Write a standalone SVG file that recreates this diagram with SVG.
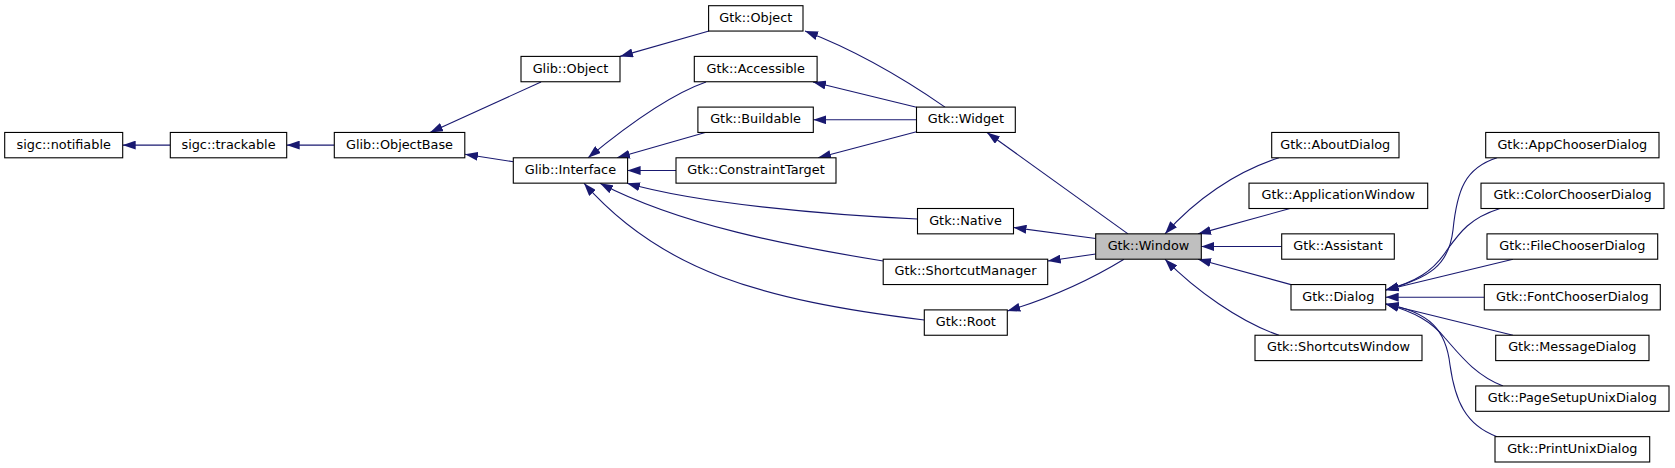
<svg xmlns="http://www.w3.org/2000/svg" width="1675" height="468" viewBox="0 0 1675 468">
<style>
.node rect{fill:#ffffff;stroke:#000000;stroke-width:1.1}
.node.cur rect{fill:#bfbfbf}
.node text{font-family:"DejaVu Sans","Liberation Sans",sans-serif;font-size:12.85px;text-anchor:middle;fill:#000}
.edge{fill:none;stroke:#191970;stroke-width:1.1;marker-end:url(#arr)}
</style>
<defs>
<marker id="arr" markerUnits="userSpaceOnUse" viewBox="0 0 13 9" refX="13" refY="4.5" markerWidth="13" markerHeight="9" orient="auto">
<path d="M0,0 L13,4.5 L0,9 z" fill="#191970"/>
</marker>
</defs>
<rect width="1675" height="468" fill="#ffffff"/>
<g id="edges">
<path class="edge" d="M170.3,145.1 L122.7,145.1"/>
<path class="edge" d="M334.3,145.1 L286.7,145.1"/>
<path class="edge" d="M541,82 L430,132.5"/>
<path class="edge" d="M513.3,161.7 L465,154.3"/>
<path class="edge" d="M709,31 L620,56.4"/>
<path class="edge" d="M706,82 C680,91 640,115 588,157.8"/>
<path class="edge" d="M707,132 L617,157.8"/>
<path class="edge" d="M676,170.5 L627.6,170.5"/>
<path class="edge" d="M917.5,219 C830,215 700,204 627,183.2"/>
<path class="edge" d="M883.2,261 C790,246 680,225 600,183.2"/>
<path class="edge" d="M924.3,320 C760,300 660,270 584,183.2"/>
<path class="edge" d="M945,107.1 C910,83 860,52 805,31.1"/>
<path class="edge" d="M916.5,107.3 L813,82"/>
<path class="edge" d="M916.5,119.8 L813.3,119.8"/>
<path class="edge" d="M916.5,131.8 L818,157.8"/>
<path class="edge" d="M1128,233.9 L987,132.5"/>
<path class="edge" d="M1095.7,238.5 L1013.5,227.5"/>
<path class="edge" d="M1095.7,254 L1047.7,261"/>
<path class="edge" d="M1124,259.2 C1090,280 1050,298 1007.3,311"/>
<path class="edge" d="M1279,157.8 C1235,172 1195,200 1165,233.9"/>
<path class="edge" d="M1290,208.5 L1198,233.9"/>
<path class="edge" d="M1281.7,246.5 L1201.3,246.5"/>
<path class="edge" d="M1291,284.6 L1198,259.2"/>
<path class="edge" d="M1279,335.3 C1240,322 1195,290 1165,259.2"/>
<path class="edge" d="M1497,157.8 C1465,168 1457,190 1453,230 C1449,265 1430,278 1385.7,290"/>
<path class="edge" d="M1500,208.5 C1470,218 1460,232 1447,250 C1433,272 1415,282 1385.7,290"/>
<path class="edge" d="M1513,259.2 L1385.7,290"/>
<path class="edge" d="M1484.3,297.2 L1385.7,297.2"/>
<path class="edge" d="M1513,335.3 L1385.7,304"/>
<path class="edge" d="M1503,386 C1475,375 1460,355 1445,338 C1432,322 1415,312 1385.7,304"/>
<path class="edge" d="M1497,436.7 C1465,425 1455,400 1450,365 C1446,330 1430,312 1385.7,304"/>
</g>
<g id="n_notifiable" class="node"><rect x="4.7" y="132.45" width="118" height="25.35"/><text x="63.7" y="148.6">sigc::notifiable</text></g>
<g id="n_trackable" class="node"><rect x="170.3" y="132.45" width="116.4" height="25.35"/><text x="228.5" y="148.6">sigc::trackable</text></g>
<g id="n_objectbase" class="node"><rect x="334.3" y="132.45" width="130.5" height="25.35"/><text x="399.5" y="148.6">Glib::ObjectBase</text></g>
<g id="n_glibobject" class="node"><rect x="521" y="56.4" width="99" height="25.35"/><text x="570.5" y="72.6">Glib::Object</text></g>
<g id="n_interface" class="node"><rect x="513.3" y="157.8" width="114.3" height="25.35"/><text x="570.4" y="174">Glib::Interface</text></g>
<g id="n_gtkobject" class="node"><rect x="708.6" y="5.7" width="94.4" height="25.35"/><text x="755.8" y="21.9">Gtk::Object</text></g>
<g id="n_accessible" class="node"><rect x="694.3" y="56.4" width="122.8" height="25.35"/><text x="755.7" y="72.6">Gtk::Accessible</text></g>
<g id="n_buildable" class="node"><rect x="697.9" y="107.1" width="115.4" height="25.35"/><text x="755.6" y="123.3">Gtk::Buildable</text></g>
<g id="n_constrainttarget" class="node"><rect x="676" y="157.8" width="160" height="25.35"/><text x="756" y="174">Gtk::ConstraintTarget</text></g>
<g id="n_widget" class="node"><rect x="916.5" y="107.1" width="98.8" height="25.35"/><text x="965.9" y="123.3">Gtk::Widget</text></g>
<g id="n_native" class="node"><rect x="917.5" y="208.5" width="96" height="25.35"/><text x="965.5" y="224.7">Gtk::Native</text></g>
<g id="n_shortcutmanager" class="node"><rect x="883.2" y="259.2" width="164.5" height="25.35"/><text x="965.5" y="275.4">Gtk::ShortcutManager</text></g>
<g id="n_root" class="node"><rect x="924.3" y="309.9" width="83" height="25.35"/><text x="965.8" y="326.1">Gtk::Root</text></g>
<g id="n_window" class="node cur"><rect x="1095.7" y="233.85" width="105.6" height="25.35"/><text x="1148.5" y="250">Gtk::Window</text></g>
<g id="n_aboutdialog" class="node"><rect x="1271.7" y="132.45" width="127.3" height="25.35"/><text x="1335.3" y="148.6">Gtk::AboutDialog</text></g>
<g id="n_applicationwindow" class="node"><rect x="1249" y="183.15" width="178.7" height="25.35"/><text x="1338.3" y="199.3">Gtk::ApplicationWindow</text></g>
<g id="n_assistant" class="node"><rect x="1281.7" y="233.85" width="112.6" height="25.35"/><text x="1338" y="250">Gtk::Assistant</text></g>
<g id="n_dialog" class="node"><rect x="1291" y="284.55" width="94.7" height="25.35"/><text x="1338.3" y="300.7">Gtk::Dialog</text></g>
<g id="n_shortcutswindow" class="node"><rect x="1255" y="335.25" width="167" height="25.35"/><text x="1338.5" y="351.4">Gtk::ShortcutsWindow</text></g>
<g id="n_appchooserdialog" class="node"><rect x="1485.7" y="132.45" width="173.3" height="25.35"/><text x="1572.3" y="148.6">Gtk::AppChooserDialog</text></g>
<g id="n_colorchooserdialog" class="node"><rect x="1481" y="183.15" width="183" height="25.35"/><text x="1572.5" y="199.3">Gtk::ColorChooserDialog</text></g>
<g id="n_filechooserdialog" class="node"><rect x="1487" y="233.85" width="170.7" height="25.35"/><text x="1572.3" y="250">Gtk::FileChooserDialog</text></g>
<g id="n_fontchooserdialog" class="node"><rect x="1484.3" y="284.55" width="176" height="25.35"/><text x="1572.3" y="300.7">Gtk::FontChooserDialog</text></g>
<g id="n_messagedialog" class="node"><rect x="1495.7" y="335.25" width="153.3" height="25.35"/><text x="1572.3" y="351.4">Gtk::MessageDialog</text></g>
<g id="n_pagesetupunixdialog" class="node"><rect x="1475.7" y="385.95" width="193.3" height="25.35"/><text x="1572.3" y="402.1">Gtk::PageSetupUnixDialog</text></g>
<g id="n_printunixdialog" class="node"><rect x="1495" y="436.65" width="154.7" height="25.35"/><text x="1572.3" y="452.8">Gtk::PrintUnixDialog</text></g>
</svg>
